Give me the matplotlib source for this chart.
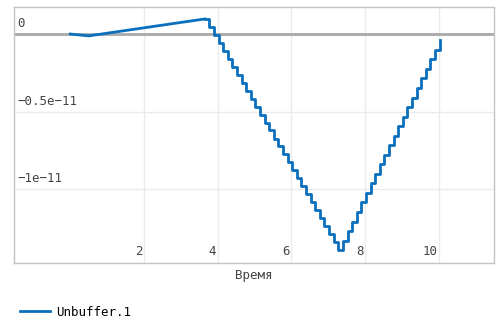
import numpy as np
import matplotlib
matplotlib.use("Agg")
import matplotlib.pyplot as plt
import matplotlib.transforms as mtransforms

# values in units of 1e-11
lin_t = [0.0, 0.5, 3.65]
lin_v = [0.0, -0.012, 0.097]

step_t = [3.65, 3.775, 3.9, 4.025, 4.15, 4.275, 4.4, 4.525, 4.65, 4.775,
          4.9, 5.025, 5.15, 5.275, 5.4, 5.525, 5.65, 5.775, 5.9, 6.025,
          6.15, 6.275, 6.4, 6.525, 6.65, 6.775, 6.9, 7.025, 7.15, 7.275,
          7.4, 7.525, 7.65, 7.775, 7.9, 8.025, 8.15, 8.275, 8.4, 8.525,
          8.65, 8.775, 8.9, 9.025, 9.15, 9.275, 9.4, 9.525, 9.65, 9.775,
          9.9, 10.025]
step_v = [0.097, 0.046, -0.006, -0.057, -0.108, -0.160, -0.211, -0.262, -0.313, -0.365,
          -0.416, -0.467, -0.519, -0.570, -0.621, -0.673, -0.724, -0.775, -0.826, -0.878,
          -0.929, -0.980, -1.032, -1.083, -1.134, -1.185, -1.237, -1.288, -1.339, -1.391,
          -1.330, -1.268, -1.207, -1.145, -1.084, -1.023, -0.961, -0.900, -0.838, -0.777,
          -0.716, -0.654, -0.593, -0.531, -0.470, -0.409, -0.347, -0.286, -0.224, -0.163,
          -0.102, -0.040]

xticks = [2, 4, 6, 8, 10]
yticks = [0, -0.5, -1.0]
ytick_labels = ["0", "−0.5e−11", "−1e−11"]

scale = 1e-11
color = "#0a6fbd"
mono = "DejaVu Sans Mono"

fig = plt.figure(figsize=(5.01, 3.25), dpi=100)
W, H = 501, 325
ax = fig.add_axes([14.3 / W, 1 - 263.3 / H, (494.3 - 14.3) / W, (263.3 - 7.3) / H])

ax.plot(lin_t, np.array(lin_v) * scale, color=color, lw=2, zorder=3)
line, = ax.plot(step_t, np.array(step_v) * scale, color=color, lw=2,
                drawstyle="steps-post", zorder=3, label="Unbuffer.1")

ax.set_xlim(-1.52, 11.51)
ax.set_ylim(-1.476 * scale, 0.172 * scale)

ax.set_xticks(xticks)
ax.set_yticks([v * scale for v in yticks])
ax.tick_params(length=0, labelbottom=False, labelleft=False)
ax.grid(True, color="#ebebeb", lw=1)
ax.set_axisbelow(True)
ax.axhline(0, color="#a8a8a8", lw=2, zorder=2)

for s in ax.spines.values():
    s.set_color("#c4c4c4")
    s.set_linewidth(1)

# tick labels drawn inside the plot area
ytr = mtransforms.blended_transform_factory(ax.transAxes, ax.transData)
off_y = mtransforms.offset_copy(ytr, fig=fig, x=2, y=3, units="points")
for v, lab in zip(yticks, ytick_labels):
    ax.text(0, v * scale, lab, transform=off_y, ha="left", va="bottom",
            fontsize=9, family=mono, color="#444444")

xtr = mtransforms.blended_transform_factory(ax.transData, ax.transAxes)
off_x = mtransforms.offset_copy(xtr, fig=fig, x=-1, y=4, units="points")
for t in xticks:
    ax.text(t, 0, str(t), transform=off_x, ha="right", va="bottom",
            fontsize=9, family=mono, color="#444444")

fig.text(254 / W, 1 - 276 / H, "Время", ha="center", va="center",
         fontsize=9, family=mono, color="#444444")

fig.legend(handles=[line], loc="center left", bbox_to_anchor=(17 / W, 1 - 312 / H),
           frameon=False, prop={"family": mono, "size": 9}, handlelength=2.4,
           handletextpad=0.5, borderaxespad=0, borderpad=0.2)

fig.savefig("out.png", dpi=100)
